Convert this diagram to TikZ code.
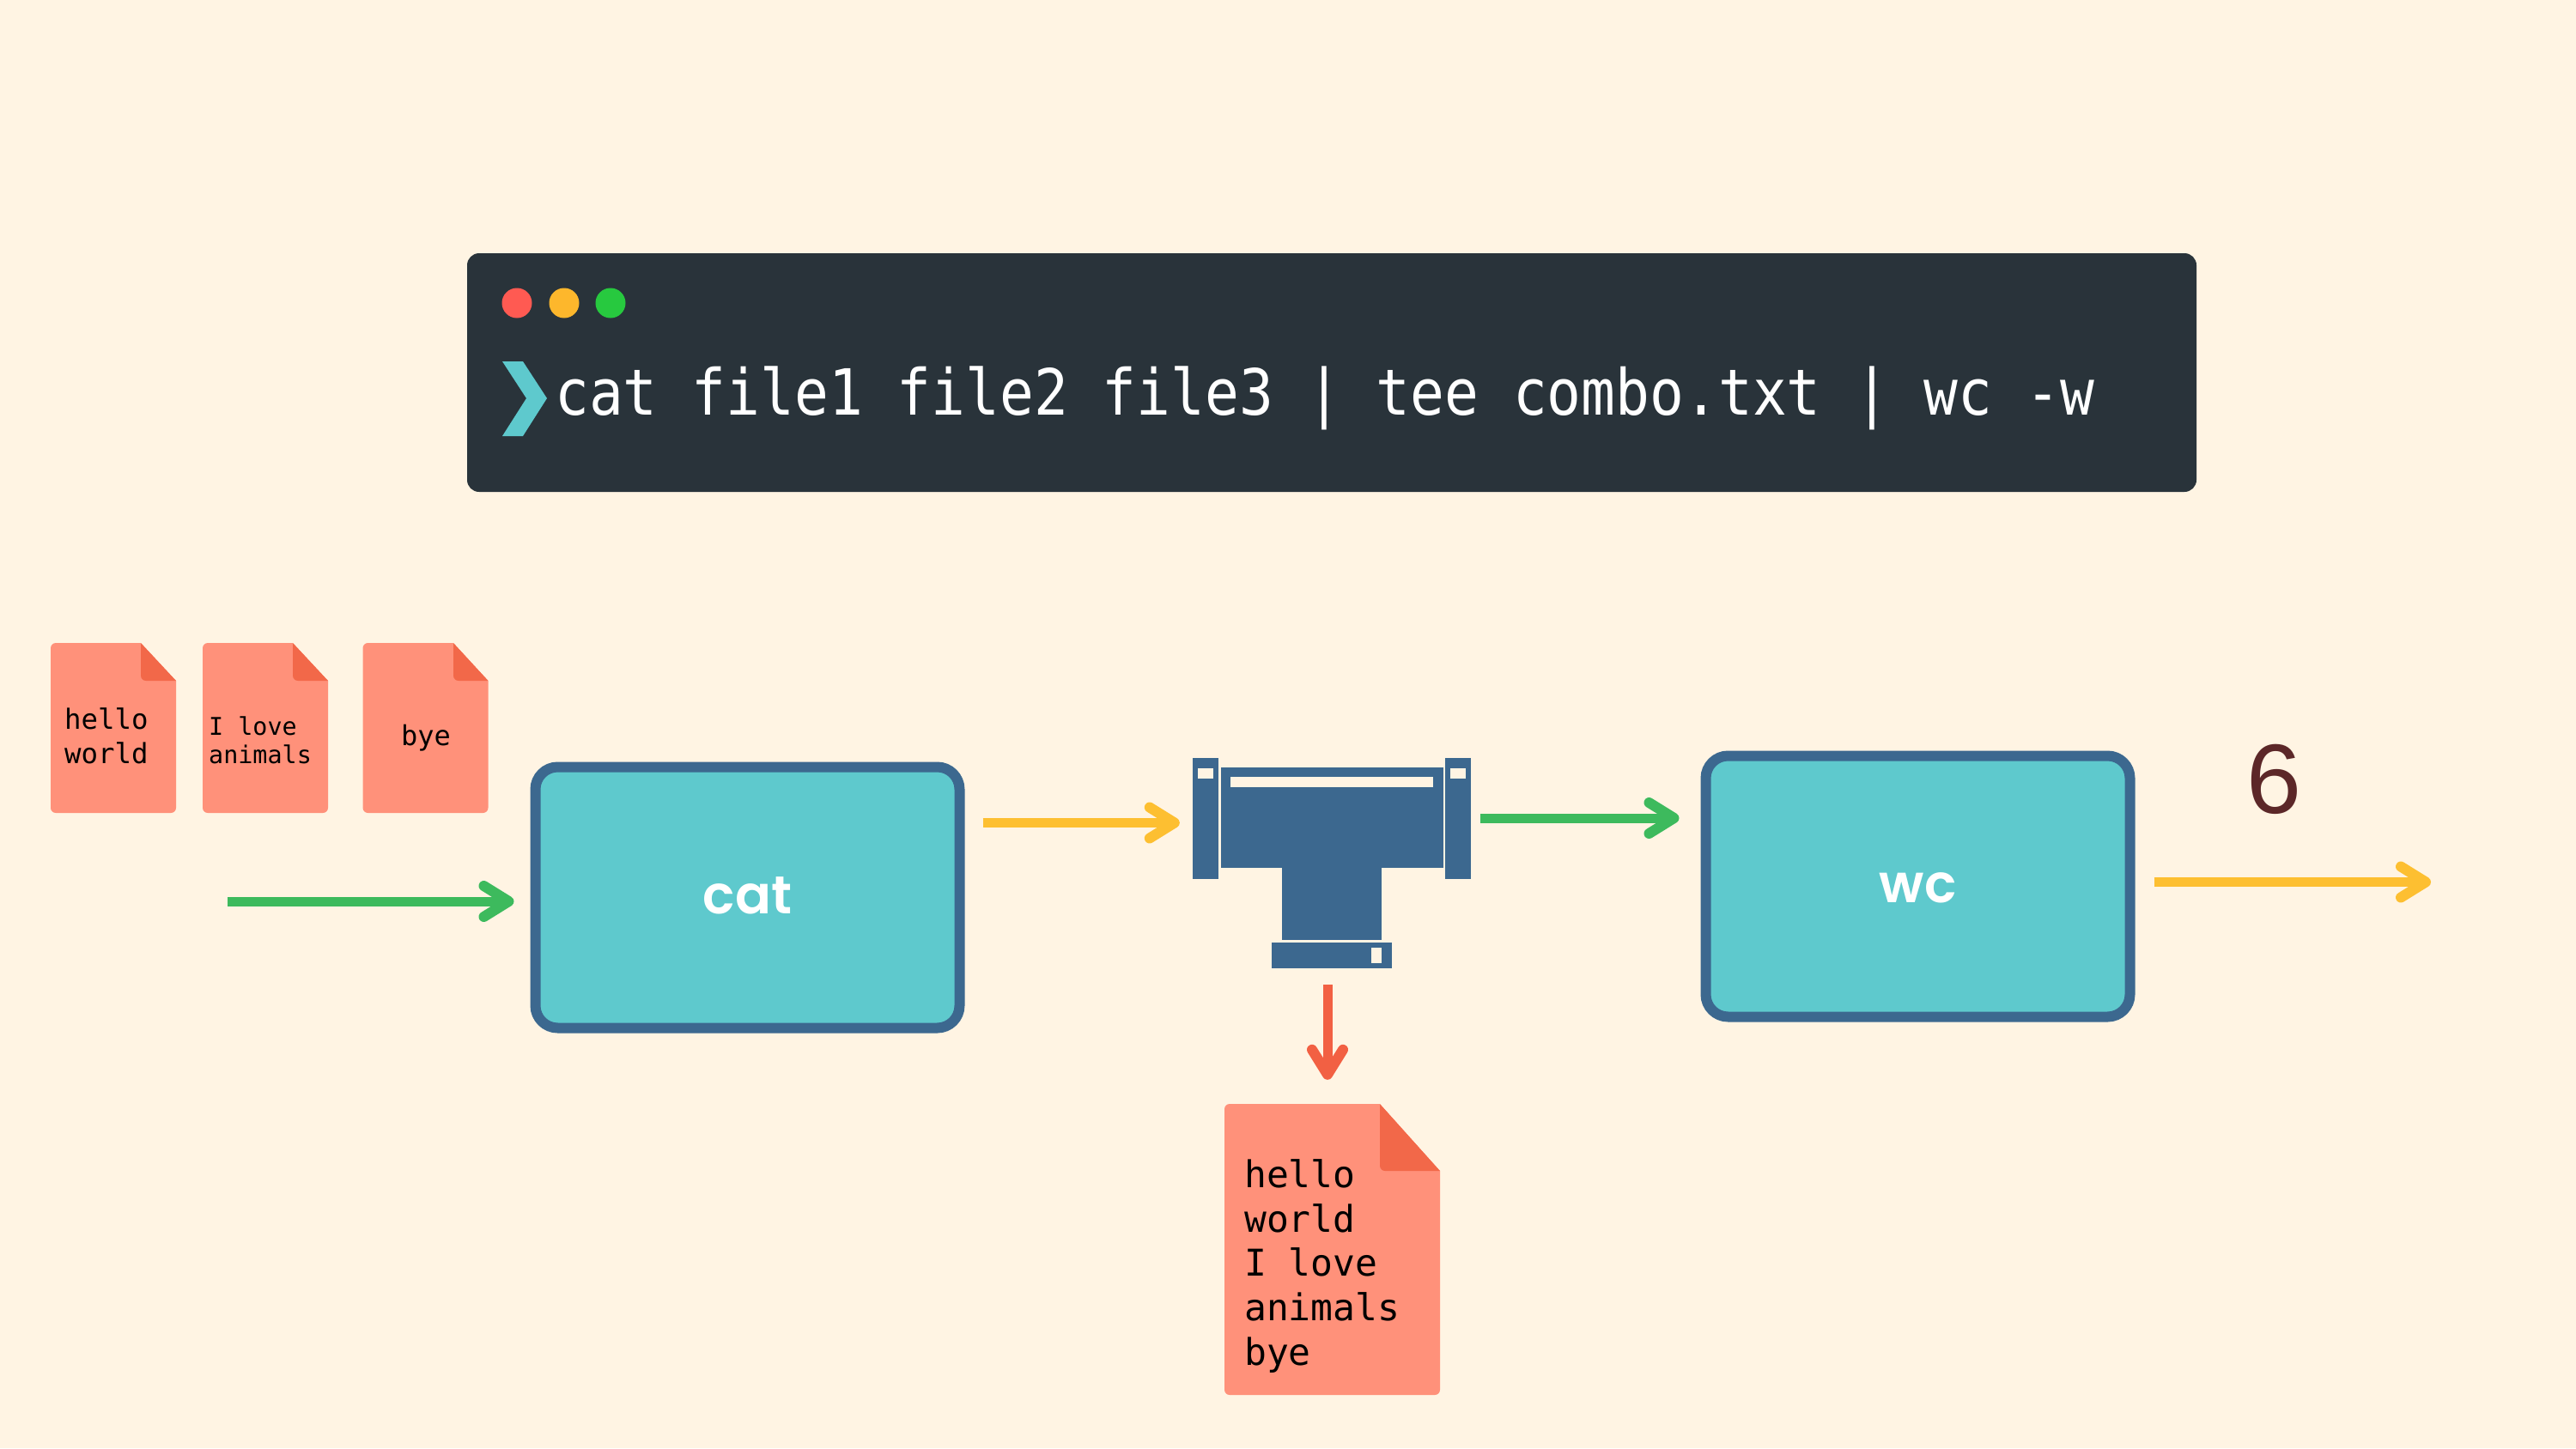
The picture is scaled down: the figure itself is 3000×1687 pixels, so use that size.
\documentclass[tikz,border=0pt]{standalone}
\usepackage{fontspec}
\usetikzlibrary{arrows.meta}
\setmainfont{Liberation Sans}
\setmonofont{DejaVu Sans Mono}
\newfontfamily\boxfont{Poppins SemiBold}
\definecolor{bgc}{HTML}{FFF4E3}
\definecolor{termc}{HTML}{29333A}
\definecolor{dotr}{HTML}{FF5A52}
\definecolor{doty}{HTML}{FDB72C}
\definecolor{dotg}{HTML}{27C93F}
\definecolor{teal}{HTML}{5EC9CD}
\definecolor{pipec}{HTML}{3C688F}
\definecolor{docc}{HTML}{FF917A}
\definecolor{foldc}{HTML}{F26849}
\definecolor{greenc}{HTML}{3DBA5D}
\definecolor{yellowc}{HTML}{FDBF31}
\definecolor{redc}{HTML}{F26043}
\definecolor{sixc}{HTML}{5C2728}
\newcommand{\docshape}[6]{%
  \fill[docc,rounded corners=6pt] (#1,#2) rectangle (#3,#4);
  \fill[bgc] (#5,#2-1) -- (#3+1,#2-1) -- (#3+1,#6) -- (#3,#6) -- (#5,#2) -- cycle;
  \fill[foldc] (#5,#2) [rounded corners=6pt] -- (#5,#6) [sharp corners] -- (#3,#6) -- cycle;
}
\tikzset{
  flow/.style={line width=11pt,-{Straight Barb[length=29pt,width=36pt,line width=12pt,round]}},
  procbox/.style={draw=pipec,fill=teal,line width=12pt,rounded corners=26pt,minimum width=494pt,inner sep=0pt,text=white},
  doctext/.style={anchor=base west,inner sep=0pt,align=left,text=black},
  dotnode/.style={circle,minimum size=35pt,inner sep=0pt},
  pipepart/.style={fill=pipec},
  pipehole/.style={fill=bgc},
}
\begin{document}
\begin{tikzpicture}[x=1pt,y=-1pt]
\useasboundingbox (0,0) rectangle (3000,1687);
\fill[bgc] (0,0) rectangle (3000,1687);
% terminal
\fill[termc,rounded corners=14pt] (544,295) rectangle (2558,573);
\node[dotnode,fill=dotr] (d1) at (602,353) {};
\node[dotnode,fill=doty] (d2) at (657,353) {};
\node[dotnode,fill=dotg] (d3) at (711,353) {};
\fill[teal] (585,421) -- (609,421) -- (637,464) -- (609,508) -- (585,508) -- (613,464) -- cycle;
\node[anchor=base west,inner sep=0pt,text=white] (cmd) at (646,483) {\scalebox{1}[1.12]{\ttfamily\fontsize{66.2}{80}\selectfont cat file1 file2 file3 | tee combo.txt | wc -w}};
% small documents
\docshape{59}{749}{205}{947}{164}{793}
\docshape{236}{749}{382}{947}{341}{793}
\docshape{422.5}{749}{568.5}{947}{528}{793}
\node[doctext,font=\ttfamily\fontsize{32.4}{40}\selectfont] (t1) at (75,889.5) {hello\\world};
\node[doctext,font=\ttfamily\fontsize{28.4}{33}\selectfont] (t2) at (243,889.5) {I love\\animals};
\node[doctext,font=\ttfamily\fontsize{32}{40}\selectfont] (t3) at (467,868) {bye};
% big document
\docshape{1426}{1286}{1677}{1625}{1607}{1364}
\node[minimum width=251pt,minimum height=339pt,inner sep=0pt] (bigdoc) at (1551.5,1455.5) {};
\node[doctext,font=\ttfamily\fontsize{43}{51.6}\selectfont] (t4) at (1449,1590) {hello\\world\\I love\\animals\\bye};
% process boxes
\node[procbox,minimum height=304pt,text height=37pt,text depth=0pt,font=\boxfont\fontsize{62}{70}\selectfont] (cat) at (870.5,1045.5) {cat};
\node[procbox,minimum height=304pt,text height=37pt,text depth=0pt,font=\boxfont\fontsize{62}{70}\selectfont] (wc) at (2233.5,1032.5) {wc};
% tee pipe
\node[minimum width=324pt,minimum height=245pt,inner sep=0pt] (tee) at (1551,1005.5) {};
\fill[pipepart] (1389,883) rectangle (1419,1023.5);
\fill[pipepart] (1683,883) rectangle (1713,1023.5);
\fill[pipepart] (1421.7,894) rectangle (1680.7,1011);
\fill[pipepart] (1493,1011) rectangle (1609,1095);
\fill[pipepart] (1481,1098) rectangle (1621,1128);
\fill[pipehole] (1394.7,895) rectangle (1413,907);
\fill[pipehole] (1689,895) rectangle (1707,907);
\fill[pipehole] (1432.7,905) rectangle (1669,917);
\fill[pipehole] (1597,1104) rectangle (1609,1122);
% output
\node[anchor=base,inner sep=0pt,text=sixc,font=\fontsize{115}{120}\selectfont] (six) at (2648,947) {6};
% flows
\coordinate (inflow) at (265,1050);
\coordinate (outflow) at (2831,1027.5);
\coordinate (y1) at (0,958.5);
\coordinate (g2) at (0,953);
\coordinate (y2) at (0,1027.5);
\coordinate (redx) at (1546,0);
\draw[flow,greenc,shorten >=19pt] (inflow) -- (inflow -| cat.west);
\draw[flow,yellowc,shorten <=21pt,shorten >=15pt] (cat.east |- y1) -- (tee.west |- y1);
\draw[flow,greenc,shorten <=11pt,shorten >=25pt] (tee.east |- g2) -- (wc.west |- g2);
\draw[flow,yellowc,shorten <=22pt] (wc.east |- y2) -- (outflow);
\draw[flow,redc,shorten <=19pt,shorten >=28pt] (tee.south -| redx) -- (bigdoc.north -| redx);
\end{tikzpicture}
\end{document}
